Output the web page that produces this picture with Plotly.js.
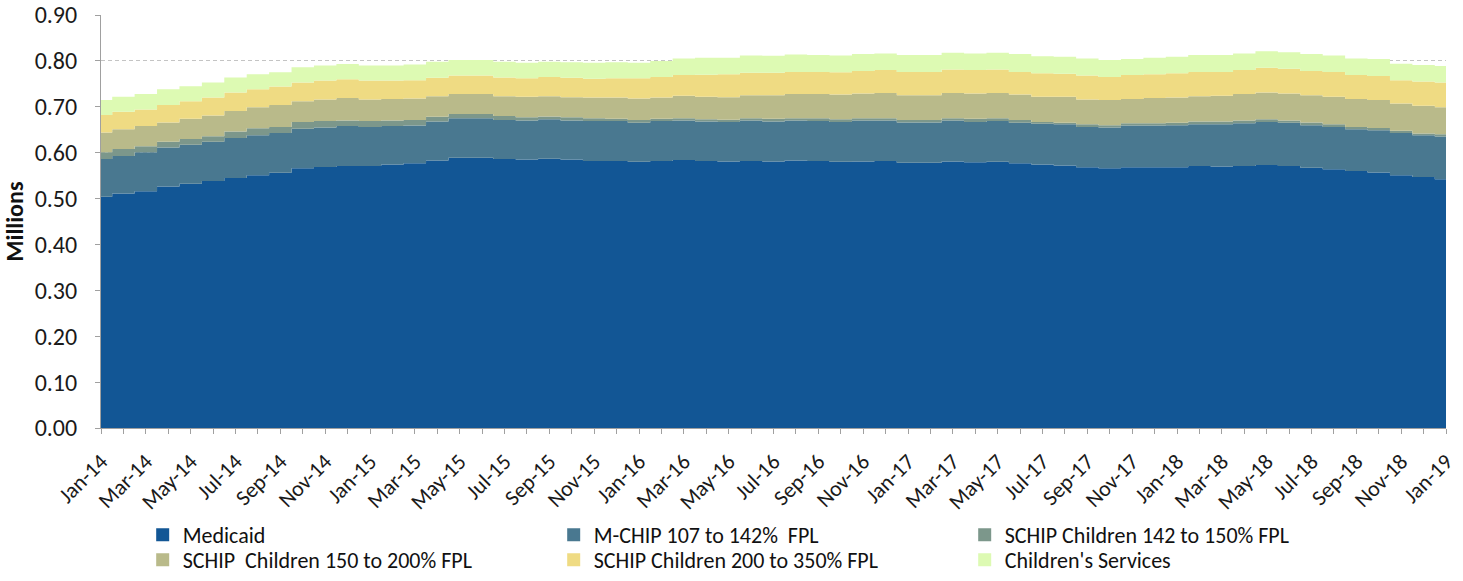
<!DOCTYPE html>
<html>
<head>
<meta charset="utf-8">
<script src="https://cdn.plot.ly/plotly-3.0.1.min.js"></script>
<style>
  html, body { margin: 0; padding: 0; background: #fff; }
  #chart { width: 1463px; height: 581px; }
</style>
</head>
<body>
<div id="chart"></div>
<script>
const months = ["Jan-14","Feb-14","Mar-14","Apr-14","May-14","Jun-14","Jul-14","Aug-14","Sep-14","Oct-14","Nov-14","Dec-14",
  "Jan-15","Feb-15","Mar-15","Apr-15","May-15","Jun-15","Jul-15","Aug-15","Sep-15","Oct-15","Nov-15","Dec-15",
  "Jan-16","Feb-16","Mar-16","Apr-16","May-16","Jun-16","Jul-16","Aug-16","Sep-16","Oct-16","Nov-16","Dec-16",
  "Jan-17","Feb-17","Mar-17","Apr-17","May-17","Jun-17","Jul-17","Aug-17","Sep-17","Oct-17","Nov-17","Dec-17",
  "Jan-18","Feb-18","Mar-18","Apr-18","May-18","Jun-18","Jul-18","Aug-18","Sep-18","Oct-18","Nov-18","Dec-18",
  "Jan-19"];

const medicaid = [0.504,0.511,0.516,0.526,0.532,0.538,0.545,0.551,0.556,0.566,0.569,0.571,
  0.571,0.574,0.577,0.583,0.589,0.589,0.586,0.585,0.587,0.585,0.582,0.582,
  0.580,0.582,0.584,0.582,0.581,0.582,0.581,0.583,0.582,0.580,0.581,0.582,
  0.578,0.578,0.581,0.579,0.580,0.577,0.574,0.572,0.568,0.566,0.568,0.568,
  0.568,0.571,0.570,0.571,0.573,0.571,0.567,0.564,0.560,0.557,0.551,0.547,
  0.542];

const mchip = [0.082,0.082,0.085,0.085,0.085,0.086,0.087,0.087,0.087,0.086,0.086,0.087,
  0.085,0.084,0.082,0.085,0.086,0.086,0.085,0.085,0.086,0.085,0.087,0.087,
  0.085,0.087,0.086,0.086,0.086,0.088,0.087,0.087,0.087,0.087,0.089,0.088,
  0.088,0.088,0.089,0.088,0.089,0.088,0.089,0.090,0.088,0.089,0.091,0.091,
  0.092,0.091,0.092,0.093,0.094,0.094,0.093,0.092,0.091,0.092,0.092,0.091,
  0.093];

const schip142 = [0.015,0.015,0.013,0.013,0.013,0.012,0.014,0.015,0.013,0.015,0.014,0.012,
  0.013,0.012,0.012,0.010,0.009,0.009,0.009,0.007,0.006,0.007,0.006,0.005,
  0.006,0.005,0.005,0.005,0.005,0.005,0.006,0.005,0.006,0.006,0.005,0.005,
  0.005,0.005,0.005,0.007,0.006,0.006,0.004,0.003,0.006,0.005,0.005,0.005,
  0.005,0.006,0.006,0.006,0.006,0.005,0.006,0.006,0.005,0.005,0.005,0.004,
  0.005];

const schip150 = [0.043,0.043,0.044,0.042,0.044,0.045,0.045,0.046,0.048,0.045,0.047,0.049,
  0.047,0.047,0.047,0.045,0.044,0.044,0.043,0.045,0.044,0.044,0.045,0.046,
  0.047,0.046,0.049,0.049,0.049,0.050,0.051,0.053,0.053,0.054,0.054,0.055,
  0.054,0.054,0.055,0.055,0.055,0.056,0.055,0.057,0.054,0.055,0.053,0.055,
  0.055,0.055,0.056,0.058,0.058,0.059,0.059,0.060,0.061,0.061,0.059,0.060,
  0.059];

const schip200 = [0.038,0.038,0.036,0.038,0.038,0.039,0.040,0.039,0.040,0.041,0.041,0.041,
  0.041,0.040,0.040,0.040,0.040,0.040,0.041,0.040,0.042,0.042,0.041,0.042,
  0.044,0.045,0.045,0.048,0.050,0.049,0.049,0.048,0.048,0.048,0.049,0.050,
  0.051,0.051,0.051,0.051,0.051,0.049,0.051,0.050,0.052,0.050,0.052,0.052,
  0.053,0.053,0.052,0.052,0.054,0.054,0.053,0.054,0.052,0.052,0.051,0.053,
  0.054];

const childrensServices = [0.033,0.033,0.034,0.034,0.033,0.033,0.033,0.033,0.031,0.033,0.033,0.033,
  0.033,0.033,0.034,0.035,0.034,0.034,0.034,0.034,0.033,0.034,0.035,0.035,
  0.034,0.035,0.036,0.037,0.036,0.038,0.037,0.038,0.037,0.037,0.037,0.036,
  0.037,0.037,0.037,0.036,0.037,0.039,0.037,0.037,0.037,0.037,0.035,0.036,
  0.036,0.037,0.037,0.036,0.036,0.036,0.037,0.036,0.036,0.037,0.036,0.036,
  0.036];

const seriesNames = ["Medicaid", "M-CHIP 107 to 142%  FPL", "SCHIP Children 142 to 150% FPL",
  "SCHIP  Children 150 to 200% FPL", "SCHIP Children 200 to 350% FPL", "Children's Services"];
const seriesValues = [medicaid, mchip, schip142, schip150, schip200, childrensServices];
const seriesColors = ["#125695", "#497890", "#7c978b", "#b9ba8a", "#efdb83", "#ddfab3"];

const yTickVals = [0, 0.1, 0.2, 0.3, 0.4, 0.5, 0.6, 0.7, 0.8, 0.9];
const yTickText = ["0.00","0.10","0.20","0.30","0.40","0.50","0.60","0.70","0.80","0.90"];
const xTickText = months.map((m, i) => (i % 2 === 0 ? m : ""));

const areaTraces = seriesNames.map((name, k) => ({
  type: "scatter",
  mode: "none",
  x: months,
  y: seriesValues[k],
  name: name,
  stackgroup: "one",
  line: { shape: "hvh", width: 0 },
  fillcolor: seriesColors[k],
  showlegend: false,
  hoverinfo: "x+y+name"
}));

// legend entries (square swatches), first three in row 1, last three in row 2
const legendTraces = seriesNames.map((name, k) => ({
  type: "scatter",
  mode: "markers",
  x: [null],
  y: [null],
  name: name,
  legend: k < 3 ? "legend" : "legend2",
  marker: { symbol: "square", size: 13, color: seriesColors[k] },
  showlegend: true,
  hoverinfo: "skip"
}));

const font = "Carlito, Calibri, Liberation Sans, Arial, sans-serif";

const legendBase = {
  orientation: "h",
  x: 0.031, xanchor: "left",
  yref: "container",
  yanchor: "top",
  entrywidth: 366,
  entrywidthmode: "pixels",
  font: { family: font, size: 22, color: "#111111" },
  itemwidth: 30,
  traceorder: "normal",
  bgcolor: "rgba(0,0,0,0)"
};

const layout = {
  width: 1463,
  height: 581,
  margin: { l: 101, r: 17, t: 15, b: 153 },
  paper_bgcolor: "#ffffff",
  plot_bgcolor: "#ffffff",
  font: { family: font, size: 18, color: "#222222" },
  showlegend: true,
  legend: Object.assign({}, legendBase, { y: 0.1153 }),
  legend2: Object.assign({}, legendBase, { y: 0.0723 }),
  xaxis: {
    type: "category",
    range: [0, 60],
    tickmode: "array",
    tickvals: months,
    ticktext: xTickText,
    tickangle: -45,
    ticks: "outside",
    ticklen: 5,
    tickcolor: "#a0a0a0",
    showline: true,
    linecolor: "#a0a0a0",
    linewidth: 1,
    showgrid: false,
    zeroline: false,
    ticklabelstandoff: 6,
    tickfont: { family: font, size: 22, color: "#1a1a1a" }
  },
  yaxis: {
    range: [0, 0.9],
    tickmode: "array",
    tickvals: yTickVals,
    ticktext: yTickText,
    ticks: "outside",
    ticklen: 5,
    tickcolor: "#a0a0a0",
    showline: true,
    linecolor: "#a0a0a0",
    linewidth: 1,
    showgrid: true,
    gridcolor: "#c4c4c4",
    griddash: "4px,3px",
    gridwidth: 1,
    zeroline: false,
    ticklabelstandoff: 13,
    tickfont: { family: font, size: 24, color: "#1a1a1a" },
    title: { text: "<b>Millions</b>", font: { family: font, size: 24, color: "#111111" }, standoff: 4 }
  }
};

Plotly.newPlot("chart", areaTraces.concat(legendTraces), layout, { displayModeBar: false, staticPlot: true });
</script>
</body>
</html>
